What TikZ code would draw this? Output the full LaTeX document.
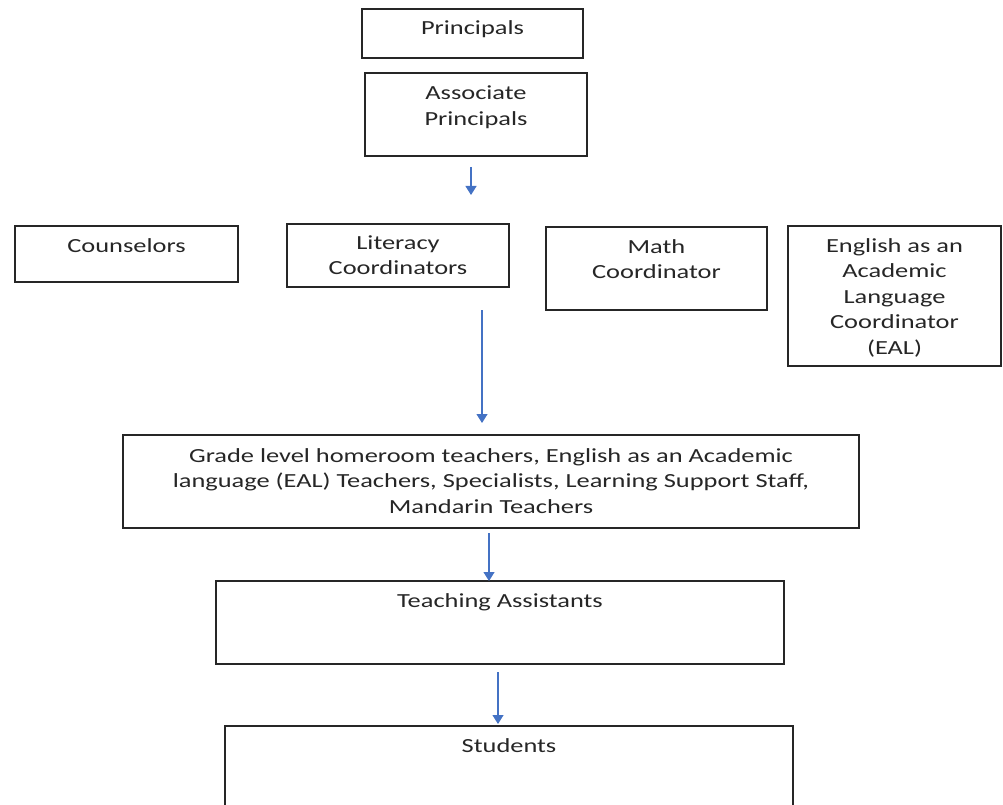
\documentclass[tikz,border=0pt]{standalone}
\usepackage{fontspec}
\setmainfont[FakeStretch=1.32]{Carlito}
\usetikzlibrary{arrows.meta}
\definecolor{arrowblue}{HTML}{4472C4}
\definecolor{boxline}{HTML}{262626}
\definecolor{txt}{HTML}{262626}
\tikzset{
  box/.style={draw=boxline, line width=1.4pt, inner sep=0pt, outer sep=0pt, text=txt},
  arr/.style={draw=arrowblue, line width=1.2pt, -{Triangle[length=9pt,width=11pt]}},
}
% name, x1, y1, x2, y2, first-baseline offset, text
\newcommand\bx[7]{%
  \pgfmathsetmacro\bw{#4-#2}%
  \pgfmathsetmacro\bh{#5-#3}%
  \node[box, anchor=north west] (#1) at (#2pt,-#3pt)
    {\parbox[c][\bh pt][t]{\bw pt}{\centering\fontsize{20pt}{25.6pt}\selectfont\rule{0pt}{#6pt}#7}};}
\begin{document}
\begin{tikzpicture}[x=1pt,y=1pt]
\useasboundingbox (0,0) rectangle (1003,-805);
\bx{prin}{362}{9}{583}{58}{26}{Principals}
\bx{assoc}{365}{73}{587}{156}{27}{Associate\\Principals}
\bx{couns}{15}{226}{238}{282}{26}{Counselors}
\bx{lit}{287}{224}{509}{287}{25}{Literacy\\Coordinators}
\bx{math}{546}{227}{767}{310}{26}{Math\\Coordinator}
\bx{eal}{788}{226}{1001}{366}{26}{English as an\\Academic\\Language\\Coordinator\\(EAL)}
\bx{teach}{123}{435}{859}{528}{27}{Grade level homeroom teachers, English as an Academic\\language (EAL) Teachers, Specialists, Learning Support Staff,\\Mandarin Teachers}
\bx{ta}{216}{581}{784}{664}{26}{Teaching Assistants}
\bx{stud}{225}{726}{793}{815}{26}{Students}
\coordinate (a1s) at (471,-167);
\coordinate (a1e) at (471,-195);
\coordinate (a2s) at (482,-310);
\coordinate (a2e) at (482,-423);
\draw[arr] (a1s) -- (a1e);
\draw[arr] (a2s) -- (a2e);
\draw[arr] (teach.south -| 489,0) ++(0,-5) -- (ta.north -| 489,0);
\draw[arr] (ta.south -| 498,0) ++(0,-8) -- ([yshift=2pt]stud.north -| 498,0);
\end{tikzpicture}
\end{document}
